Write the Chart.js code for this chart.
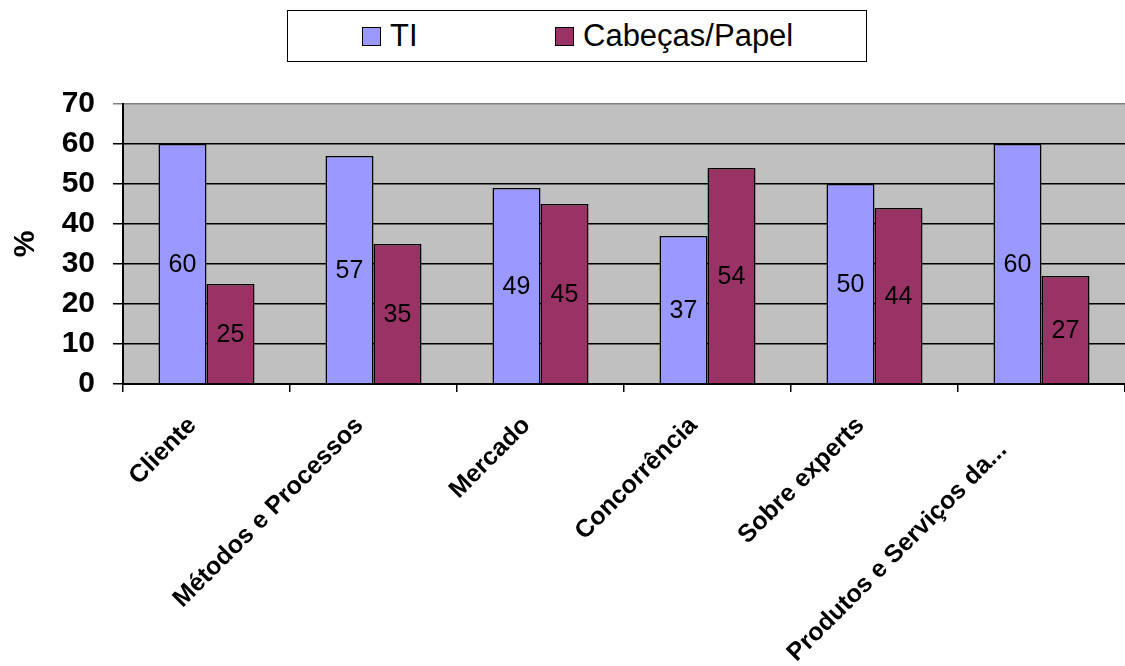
<!DOCTYPE html>
<html>
<head>
<meta charset="utf-8">
<script src="https://cdn.jsdelivr.net/npm/chart.js@4.4.1/dist/chart.umd.min.js"></script>
<style>
  html, body { margin: 0; padding: 0; background: #ffffff; }
  #wrap { position: relative; width: 1125px; height: 666px; }
  #chart { position: absolute; left: 0; top: 0; }
  #legend {
    position: absolute; left: 287px; top: 10px; width: 580px; height: 52px;
    border: 1.5px solid #000; box-sizing: border-box; background: #fff;
    font-family: "Liberation Sans", Arial, sans-serif; font-size: 31px; color: #000;
  }
  .lg-item { position: absolute; top: 0; height: 50px; display: flex; align-items: center; }
  .lg-box { width: 19px; height: 19px; border: 1.5px solid #000; box-sizing: border-box; margin-right: 9px; margin-top: 1px; }
</style>
</head>
<body>
<div id="wrap">
  <canvas id="chart" width="1125" height="666"></canvas>
  <div id="legend"></div>
</div>
<script>
// Categories and series
const categories = ["Cliente", "Métodos e Processos", "Mercado", "Concorrência", "Sobre experts", "Produtos e Serviços da...     "];
const seriesNames = ["TI", "Cabeças/Papel"];
const tiValues = [60, 57, 49, 37, 50, 60];
const papelValues = [25, 35, 45, 54, 44, 27];
const seriesColors = ["#9999FF", "#993366"];
const yTicks = [0, 10, 20, 30, 40, 50, 60, 70];

const FONT = "'Liberation Sans', Arial, sans-serif";

// Legend (HTML, framed box above the plot)
const legendEl = document.getElementById('legend');
const legendOffsets = [74, 267];
seriesNames.forEach((name, i) => {
  const item = document.createElement('div');
  item.className = 'lg-item';
  item.style.left = legendOffsets[i] + 'px';
  const box = document.createElement('span');
  box.className = 'lg-box';
  box.style.background = seriesColors[i];
  const txt = document.createElement('span');
  txt.textContent = name;
  item.appendChild(box);
  item.appendChild(txt);
  legendEl.appendChild(item);
});

// Grey plot-area background
const plotBackground = {
  id: 'plotBackground',
  beforeDraw(chart) {
    const { ctx, chartArea: a } = chart;
    ctx.save();
    ctx.fillStyle = '#C0C0C0';
    ctx.fillRect(a.left, a.top, a.right - a.left, a.bottom - a.top);
    ctx.restore();
  }
};

// Value labels centred inside each bar
const barValueLabels = {
  id: 'barValueLabels',
  afterDatasetsDraw(chart) {
    const { ctx } = chart;
    ctx.save();
    ctx.font = "25px " + FONT;
    ctx.fillStyle = '#000';
    ctx.textAlign = 'center';
    ctx.textBaseline = 'middle';
    chart.data.datasets.forEach((ds, di) => {
      chart.getDatasetMeta(di).data.forEach((bar, i) => {
        ctx.fillText(String(ds.data[i]), bar.x, (bar.y + bar.base) / 2 + 1);
      });
    });
    ctx.restore();
  }
};

new Chart(document.getElementById('chart'), {
  type: 'bar',
  data: {
    labels: categories,
    datasets: [
      { label: seriesNames[0], data: tiValues, backgroundColor: seriesColors[0], borderColor: '#000', borderWidth: 1.5 },
      { label: seriesNames[1], data: papelValues, backgroundColor: seriesColors[1], borderColor: '#000', borderWidth: 1.5 }
    ]
  },
  options: {
    responsive: false,
    animation: false,
    events: [],
    layout: { padding: { top: 104, left: 0, right: 0, bottom: 0 } },
    datasets: { bar: { categoryPercentage: 0.575, barPercentage: 1.0 } },
    plugins: { legend: { display: false }, tooltip: { enabled: false } },
    scales: {
      x: {
        grid: { offset: true, drawOnChartArea: false, drawTicks: true, tickLength: 8, color: '#000', lineWidth: 1.5 },
        border: { color: '#000', width: 2 },
        ticks: {
          minRotation: 45, maxRotation: 45, autoSkip: false, padding: 19, labelOffset: -14,
          color: '#000', font: { family: FONT, size: 25, weight: 'bold' }
        },
        afterFit(scale) { scale.height = 282; }
      },
      y: {
        min: 0, max: 70,
        afterBuildTicks(scale) { scale.ticks = yTicks.map(v => ({ value: v })); },
        grid: {
          color: ctx => (ctx.tick && ctx.tick.value === 70 ? '#808080' : '#000'),
          lineWidth: 1.5, tickLength: 10
        },
        border: { color: '#000', width: 2 },
        ticks: { padding: 18, color: '#000', font: { family: FONT, size: 30, weight: 'bold' } },
        title: { display: true, text: '%', color: '#000', font: { family: FONT, size: 30, weight: 'bold' }, padding: { top: 8, bottom: 0 } },
        afterFit(scale) { scale.width = 123; }
      }
    }
  },
  plugins: [plotBackground, barValueLabels]
});
</script>
</body>
</html>
